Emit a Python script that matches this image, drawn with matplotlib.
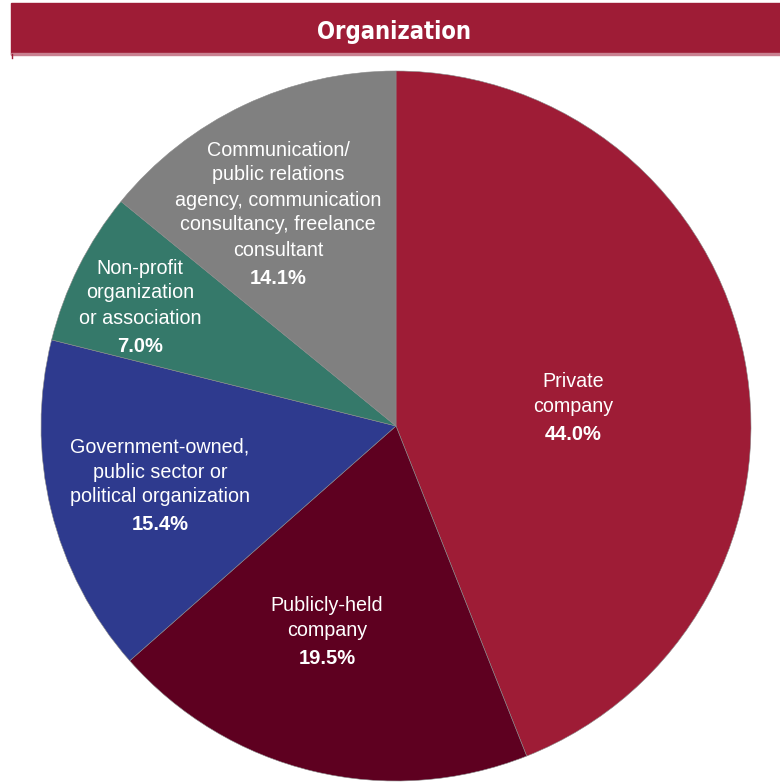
import matplotlib.pyplot as plt
from matplotlib.patches import Rectangle

labels = ['Private\ncompany', 'Publicly-held\ncompany',
          'Government-owned,\npublic sector or\npolitical organization',
          'Non-profit\norganization\nor association',
          'Communication/\npublic relations\nagency, communication\nconsultancy, freelance\nconsultant']
shares = [44.0, 19.5, 15.4, 7.0, 14.1]
colors = ['#9E1C36', '#5E0020', '#2E3A8E', '#35796A', '#808080']

# label centres in pixels: (x, name y, pct y)
label_pos = [(573, 394, 434), (327, 618, 658), (160, 472, 525),
             (140, 293, 347), (278, 200, 278)]

W, H = 780, 782
cx, cy, r = 396, 426, 355

fig = plt.figure(figsize=(W / 100, H / 100), dpi=100)

# title bar
bar = fig.add_axes([0, 0, 1, 1])
bar.set_xlim(0, W)
bar.set_ylim(H, 0)
bar.axis('off')
bar.add_patch(Rectangle((11, 3), W - 11, 51, color='#9E1C36'))
bar.add_patch(Rectangle((11, 53), W - 11, 2, color='#C98090'))
bar.plot([11.5, 11.5], [54, 58], color='#9E1C36', lw=1)
bar.text(394, 32, 'Organization', color='white', fontsize=17, fontweight='bold',
         fontstretch='condensed', ha='center', va='center', family='DejaVu Sans')

ax = fig.add_axes([(cx - r) / W, (H - cy - r) / H, 2 * r / W, 2 * r / H])
ax.pie(shares, colors=colors, startangle=90, counterclock=False, radius=1,
       wedgeprops=dict(edgecolor='#8a8a8a', linewidth=0.4))
ax.set_xlim(-1, 1)
ax.set_ylim(-1, 1)
ax.axis('off')

for lab, val, (px, ny, py) in zip(labels, shares, label_pos):
    x = (px - cx) / r
    ax.text(x, (cy - ny) / r, lab, color='white', fontsize=14.2, ha='center',
            va='center', linespacing=1.4, family='Liberation Sans')
    ax.text(x, (cy - py) / r, f'{val:.1f}%', color='white', fontsize=14.5,
            fontweight='bold', ha='center', va='center', family='Liberation Sans')

fig.savefig('out.png', dpi=100)
